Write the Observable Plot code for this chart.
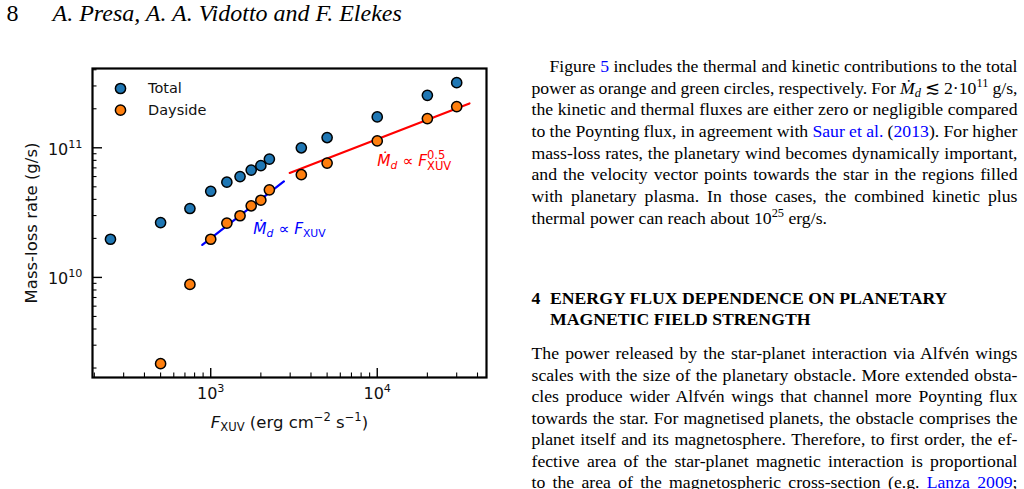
<!DOCTYPE html>
<html lang="en">
<head>
<meta charset="utf-8">
<script src="https://cdn.jsdelivr.net/npm/d3@7"></script>
<script src="https://cdn.jsdelivr.net/npm/@observablehq/plot@0.6"></script>
<style>
  html, body { margin: 0; padding: 0; background: #fff; }
  body { position: relative; width: 1024px; height: 489px; overflow: hidden;
         font-family: "Liberation Serif", "Times New Roman", serif; color: #000; }
  .runhead { position: absolute; top: 0.6px; font-size: 24px; line-height: 24px; white-space: nowrap; }
  .ln { position: absolute; left: 531.5px; width: 485.5px; height: 21.7px; white-space: nowrap;
        font-size: 17.7px; line-height: 21.7px; text-align: left; }
  .ln.ind { left: 549.5px; width: 467.5px; }
  .ln.hd { font-weight: bold; }
  .ln.hd2 { left: 550px; width: 467px; }
  .num { display: inline-block; width: 18.5px; }
  a { color: #0000ff; text-decoration: none; }
  sup, sub { font-size: 70%; line-height: 0; vertical-align: 0; position: relative; }
  sup { top: -0.55em; }
  sub { top: 0.3em; }
  #chart { position: absolute; left: 0; top: 0; }
</style>
</head>
<body>
<div class="runhead" style="left:6.5px">8</div>
<div class="runhead" style="left:52.5px;font-style:italic">A. Presa, A. A. Vidotto and F. Elekes</div>

<div id="chart"></div>

<div class="ln ind just" style="top:55.9px"><span>Figure <a>5</a> includes the thermal and kinetic contributions to the total</span></div>
<div class="ln just" style="top:77.6px"><span>power as orange and green circles, respectively. For <i>Ṁ</i><sub><i>d</i></sub> ≲ 2·10<sup>11</sup> g/s,</span></div>
<div class="ln just" style="top:99.3px"><span>the kinetic and thermal fluxes are either zero or negligible compared</span></div>
<div class="ln just" style="top:121px"><span>to the Poynting flux, in agreement with <a>Saur et al.</a> (<a>2013</a>). For higher</span></div>
<div class="ln just" style="top:142.7px"><span>mass-loss rates, the planetary wind becomes dynamically important,</span></div>
<div class="ln just" style="top:164.4px"><span>and the velocity vector points towards the star in the regions filled</span></div>
<div class="ln just" style="top:186.1px"><span>with planetary plasma. In those cases, the combined kinetic plus</span></div>
<div class="ln" style="top:207.8px"><span>thermal power can reach about 10<sup>25</sup> erg/s.</span></div>

<div class="ln hd" style="top:288.2px"><span class="num">4</span>ENERGY FLUX DEPENDENCE ON PLANETARY</div>
<div class="ln hd hd2" style="top:308.9px">MAGNETIC FIELD STRENGTH</div>

<div class="ln just" style="top:343.2px"><span>The power released by the star-planet interaction via Alfvén wings</span></div>
<div class="ln just" style="top:364.7px"><span>scales with the size of the planetary obstacle. More extended obsta-</span></div>
<div class="ln just" style="top:386.2px"><span>cles produce wider Alfvén wings that channel more Poynting flux</span></div>
<div class="ln just" style="top:407.7px"><span>towards the star. For magnetised planets, the obstacle comprises the</span></div>
<div class="ln just" style="top:429.2px"><span>planet itself and its magnetosphere. Therefore, to first order, the ef-</span></div>
<div class="ln just" style="top:450.7px"><span>fective area of the star-planet magnetic interaction is proportional</span></div>
<div class="ln just" style="top:472.2px"><span>to the area of the magnetospheric cross-section (e.g. <a>Lanza 2009</a>;</span></div>

<script>
// Full justification of each typeset line: stretch or squeeze the inter-word spaces
document.querySelectorAll(".ln.just").forEach(div => {
  const span = div.firstElementChild;
  const natural = span.getBoundingClientRect().width;
  const spaces = (span.textContent.match(/ /g) || []).length;
  if (spaces) div.style.wordSpacing = ((div.clientWidth - natural) / spaces).toFixed(3) + "px";
});

// XUV flux (erg cm^-2 s^-1) and mass-loss rates (g/s)
const fluxTotal = [250, 500, 750, 1000, 1250, 1500, 1750, 2000, 2250, 3500, 5000, 10000, 20000, 30000];
const mdotTotal = [1.97e10, 2.65e10, 3.4e10, 4.62e10, 5.43e10, 6.0e10, 6.73e10, 7.28e10, 8.18e10, 1.0e11, 1.2e11, 1.73e11, 2.54e11, 3.18e11];
const fluxDayside = [500, 750, 1000, 1250, 1500, 1750, 2000, 2250, 3500, 5000, 10000, 20000, 30000];
const mdotDayside = [2.16e9, 8.83e9, 1.97e10, 2.62e10, 2.99e10, 3.57e10, 3.94e10, 4.74e10, 6.2e10, 7.62e10, 1.13e11, 1.68e11, 2.08e11];

// power-law guides: Mdot ∝ F and Mdot ∝ F^0.5
const linearFlux = [890, 2750];
const linearMdot = [1.78e10, 5.5e10];
const sqrtFlux = [2980, 35800];
const sqrtMdot = [6.4e10, 2.2e11];

const seriesNames = ["Total", "Dayside"];
const seriesColors = ["#1f77b4", "#ff7f0e"];

const annotationText = ["Ṁd ∝ FXUV", "Ṁd ∝ FXUV^0.5"];
const annotationFlux = [1800, 10000];
const annotationMdot = [2.16e10, 7.2e10];
const annotationColors = ["#0000ff", "#ff0000"];

const xLabel = "FXUV (erg cm^−2 s^−1)";
const yLabel = "Mass-loss rate (g/s)";

const xMajor = [1e3, 1e4];
const xMinor = [200, 300, 400, 500, 600, 700, 800, 900, 2000, 3000, 4000, 5000, 6000, 7000, 8000, 9000, 20000, 30000, 40000];
const yMajor = [1e10, 1e11];
const yMinor = [2e9, 3e9, 4e9, 5e9, 6e9, 7e9, 8e9, 9e9, 2e10, 3e10, 4e10, 5e10, 6e10, 7e10, 8e10, 9e10, 2e11, 3e11, 4e11];
const xMajorLabels = ["10^3", "10^4"];
const yMajorLabels = ["10^10", "10^11"];

const total = fluxTotal.map((f, i) => ({f, m: mdotTotal[i]}));
const dayside = fluxDayside.map((f, i) => ({f, m: mdotDayside[i]}));
const linearFit = linearFlux.map((f, i) => ({f, m: linearMdot[i]}));
const sqrtFit = sqrtFlux.map((f, i) => ({f, m: sqrtMdot[i]}));
const annotations = annotationText.map((t, i) => ({t, f: annotationFlux[i], m: annotationMdot[i], c: annotationColors[i]}));

const W = 500, H = 440;
const mL = 92, mT = 68, mR = 14, mB = 63;
const innerW = W - mL - mR, innerH = H - mT - mB;
const dotR = 5.1;

const legendMarks = seriesNames.flatMap((name, i) => [
  Plot.dot([name], {frameAnchor: "top-left", dx: 28, dy: 20 + i * 21.7, r: dotR,
    fill: seriesColors[i], stroke: "black", strokeWidth: 1.5}),
  Plot.text([name], {frameAnchor: "top-left", dx: 55.5, dy: 20 + i * 21.7, text: d => d,
    textAnchor: "start", lineAnchor: "middle", fontSize: 14.5, fill: "#111"})
]);

const chart = Plot.plot({
  width: W, height: H,
  marginLeft: mL, marginTop: mT, marginRight: mR, marginBottom: mB,
  x: {type: "log", domain: [195, 45300], axis: null},
  y: {type: "log", domain: [1.69e9, 4.09e11], axis: null},
  style: {fontFamily: "'DejaVu Sans', sans-serif", fontSize: "16px", background: "transparent", overflow: "visible", color: "#111"},
  marks: [
    // inward ticks on the bottom and left spines
    Plot.tickX(xMinor, {x: d => d, insetTop: innerH - 4.5, stroke: "black", strokeWidth: 1.1}),
    Plot.tickX(xMajor, {x: d => d, insetTop: innerH - 9, stroke: "black", strokeWidth: 1.4}),
    Plot.tickY(yMinor, {y: d => d, insetRight: innerW - 4.5, stroke: "black", strokeWidth: 1.1}),
    Plot.tickY(yMajor, {y: d => d, insetRight: innerW - 10, stroke: "black", strokeWidth: 1.4}),

    Plot.line(linearFit, {x: "f", y: "m", stroke: "#0000ff", strokeWidth: 2.2}),
    Plot.line(sqrtFit, {x: "f", y: "m", stroke: "#ff0000", strokeWidth: 2.2}),

    Plot.dot(total, {x: "f", y: "m", r: dotR, fill: seriesColors[0], stroke: "black", strokeWidth: 1.5}),
    Plot.dot(dayside, {x: "f", y: "m", r: dotR, fill: seriesColors[1], stroke: "black", strokeWidth: 1.5}),

    Plot.frame({stroke: "black", strokeWidth: 2.2}),

    // tick labels
    Plot.text(xMajor, {x: d => d, text: (d, i) => xMajorLabels[i], frameAnchor: "bottom", dy: 21.5,
      lineAnchor: "bottom", textAnchor: "middle", fontSize: 16}),
    Plot.text(yMajor, {y: d => d, text: (d, i) => yMajorLabels[i], frameAnchor: "left", dx: -10, dy: 7,
      lineAnchor: "bottom", textAnchor: "end", fontSize: 16}),

    // axis titles
    Plot.text([xLabel], {text: d => d, frameAnchor: "bottom", dy: 50.5, lineAnchor: "bottom",
      textAnchor: "middle", fontSize: 16.5}),
    Plot.text([yLabel], {text: d => d, frameAnchor: "left", dx: -55.5, rotate: -90, lineAnchor: "bottom",
      textAnchor: "middle", fontSize: 16.5}),

    // power-law annotations
    Plot.text(annotations, {x: "f", y: "m", text: "t", fill: "c", textAnchor: "start",
      lineAnchor: "bottom", fontSize: 15.4}),

    ...legendMarks
  ]
});

document.getElementById("chart").append(chart);

// Typeset exponents, subscripts and italics inside the SVG labels
const richParts = {
  "Ṁd ∝ FXUV": [
    {t: "Ṁ", italic: true}, {t: "d", italic: true, size: 0.7, rise: -0.2},
    {t: " ∝ "}, {t: "F", italic: true}, {t: "XUV", size: 0.7, rise: -0.2}
  ],
  "Ṁd ∝ FXUV^0.5": [
    {t: "Ṁ", italic: true}, {t: "d", italic: true, size: 0.7, rise: -0.2},
    {t: " ∝ "}, {t: "F", italic: true}, {t: "0.5", size: 0.75, rise: 0.5},
    {t: "XUV", size: 0.75, rise: -0.25, back: true}
  ],
  "FXUV (erg cm^−2 s^−1)": [
    {t: "F", italic: true}, {t: "XUV", size: 0.7, rise: -0.2}, {t: " (erg cm"},
    {t: "−2", size: 0.7, rise: 0.45}, {t: " s"}, {t: "−1", size: 0.7, rise: 0.45}, {t: ")"}
  ]
};

function partsFor(s) {
  if (richParts[s]) return richParts[s];
  const m = /^10\^(\d+)$/.exec(s);
  if (m) return [{t: "10"}, {t: m[1], size: 0.7, rise: 0.45}];
  return null;
}

function setRich(el, parts) {
  const fs = parseFloat(getComputedStyle(el).fontSize);
  const sel = d3.select(el).text(null);
  let cur = 0, prev = null;
  for (const p of parts) {
    const ts = sel.append("tspan").text(p.t);
    const target = -(p.rise || 0) * fs;
    const dy = target - cur;
    if (Math.abs(dy) > 1e-6) ts.attr("dy", dy.toFixed(2));
    cur = target;
    if (p.size) ts.attr("font-size", (p.size * fs).toFixed(2));
    if (p.italic) ts.attr("font-style", "italic");
    if (p.back && prev) ts.attr("dx", (-prev.node().getComputedTextLength()).toFixed(2));
    prev = ts;
  }
}

d3.select(chart).selectAll("text").each(function() {
  const parts = partsFor(this.textContent);
  if (parts) setRich(this, parts);
});
</script>
</body>
</html>
